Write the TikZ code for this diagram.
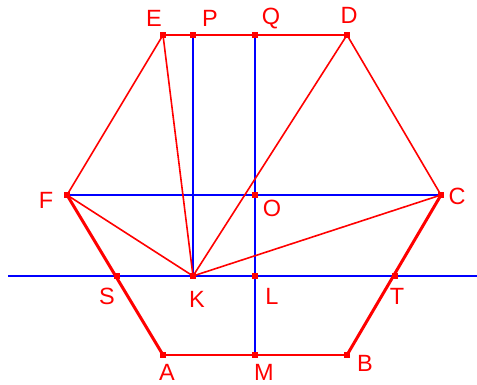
\documentclass[tikz,border=0pt]{standalone}
\usepackage{fontspec}
\setmainfont{Liberation Sans}
\begin{document}
\begin{tikzpicture}[x=1pt,y=-1pt,
  redthin/.style={red,line width=1.6pt},
  redmid/.style={red,line width=2.2pt},
  redthick/.style={red,line width=3pt},
  blueline/.style={blue,line width=2pt},
  lbl/.style={text=red,font=\fontsize{23.5}{23.5}\selectfont,inner sep=0pt},
  pt/.style={fill=red,minimum size=5.5pt,inner sep=0pt,draw=none,rectangle}]
\useasboundingbox (0,0) rectangle (477,385);
% points
\coordinate (E) at (163,35);
\coordinate (P) at (193,35);
\coordinate (Q) at (255,35);
\coordinate (D) at (347,35);
\coordinate (F) at (67,195);
\coordinate (O) at (255,195);
\coordinate (C) at (441,195);
\coordinate (S) at (117,276);
\coordinate (K) at (193,276);
\coordinate (L) at (255,276);
\coordinate (T) at (395,276);
\coordinate (A) at (163,355);
\coordinate (M) at (255,355);
\coordinate (B) at (347,355);
\coordinate (W) at (8,276);
\coordinate (Ee) at (477,276);
% blue lines
\draw[blueline] (W) -- (Ee);
\draw[blueline] (F) -- (C);
\draw[blueline] (P) -- (K);
\draw[blueline] (Q) -- (M);
% red lines
\draw[redthin] (E) -- (F);
\draw[redthin] (D) -- (C);
\draw[redmid] (E) -- (D);
\draw[redmid] (A) -- (B);
\draw[redthick] (F) -- (A);
\draw[redthick] (C) -- (B);
\draw[redthin] (E) -- (K);
\draw[redthin] (D) -- (K);
\draw[redthin] (F) -- (K);
\draw[redthin] (C) -- (K);
% markers
\foreach \p in {E,P,Q,D,F,O,C,S,K,L,T,A,M,B}
  \node[pt] (m\p) at (\p) {};
% labels
\node[lbl] (lE) at (154,18) {E};
\node[lbl] (lP) at (210,18) {P};
\node[lbl] (lQ) at (271,19) {Q};
\node[lbl] (lD) at (349,15) {D};
\node[lbl] (lF) at (46,200) {F};
\node[lbl] (lO) at (272,208) {O};
\node[lbl] (lC) at (457,196) {C};
\node[lbl] (lS) at (107,296) {S};
\node[lbl] (lK) at (197,299) {K};
\node[lbl] (lL) at (272,296) {L};
\node[lbl] (lT) at (397,296) {T};
\node[lbl] (lA) at (167,372) {A};
\node[lbl] (lM) at (264,372) {M};
\node[lbl] (lB) at (365,363) {B};
\end{tikzpicture}
\end{document}
